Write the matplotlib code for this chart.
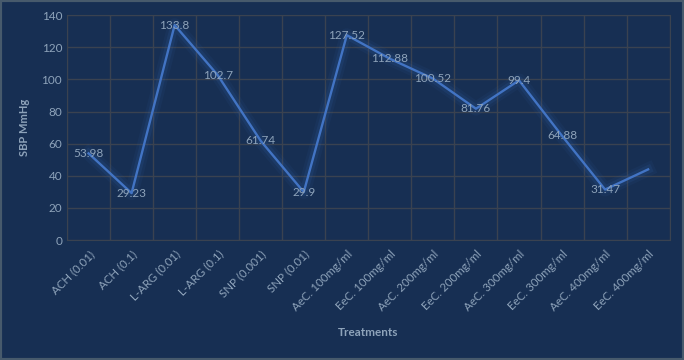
import numpy as np
import matplotlib.pyplot as plt
import matplotlib.patheffects as pe

plt.rcParams['font.family'] = ['Lato', 'DejaVu Sans']

treatments = ['ACH (0.01)', 'ACH (0.1)', 'L-ARG (0.01)', 'L-ARG (0.1)', 'SNP (0.001)',
              'SNP (0.01)', 'AeC. 100mg/ml', 'EeC. 100mg/ml', 'AeC. 200mg/ml', 'EeC. 200mg/ml',
              'AeC. 300mg/ml', 'EeC. 300mg/ml', 'AeC. 400mg/ml', 'EeC. 400mg/ml']
sbp = [53.98, 29.23, 133.8, 102.7, 61.74, 29.9, 127.52, 112.88, 100.52, 81.76, 99.4, 64.88, 31.47, 44]
labels = ['53.98', '29.23', '133.8', '102.7', '61.74', '29.9', '127.52', '112.88', '100.52',
          '81.76', '99.4', '64.88', '31.47', '']

bg = '#172f53'
txt = '#8ea3ba'

fig = plt.figure(figsize=(6.84, 3.6), dpi=100, facecolor=bg)
fig.patches.append(plt.Rectangle((0, 0), 1, 1, transform=fig.transFigure, fill=False,
                                 edgecolor='#475a6c', linewidth=3))
ax = fig.add_axes([0.098, 0.333, 0.881, 0.625])
ax.set_facecolor(bg)

x = np.arange(len(treatments))
ax.plot(x, sbp, color='#4274c4', linewidth=1.7, zorder=3,
        path_effects=[pe.Stroke(linewidth=10, foreground='#3566b0', alpha=0.08),
                      pe.Stroke(linewidth=6, foreground='#3566b0', alpha=0.14),
                      pe.Normal()])
for xi, yi, lab in zip(x, sbp, labels):
    ax.text(xi, yi, lab, ha='center', va='center', color=txt, fontsize=8.5, zorder=4)

ax.set_xlim(-0.5, len(treatments) - 0.5)
ax.set_ylim(0, 140)
ax.set_yticks(np.arange(0, 141, 20))
ax.set_xticks(x)
ax.set_xticklabels(treatments, rotation=45, ha='right', rotation_mode='anchor')
ax.set_xticks(np.arange(-0.5, len(treatments), 1), minor=True)
ax.grid(True, which='minor', axis='x', color='#3a4250', linewidth=1)
ax.grid(True, which='major', axis='y', color='#3a4250', linewidth=1)
ax.tick_params(which='both', length=0, colors=txt, labelsize=8.5)
ax.tick_params(axis='x', labelsize=8.3, pad=6)
for s in ax.spines.values():
    s.set_color('#3a4250')

ax.set_ylabel('SBP MmHg', color=txt, fontsize=8, fontweight='bold', labelpad=8)
ax.set_xlabel('Treatments', color=txt, fontsize=8.5, fontweight='bold', labelpad=10)

fig.savefig('out.png', dpi=100, facecolor=bg)
